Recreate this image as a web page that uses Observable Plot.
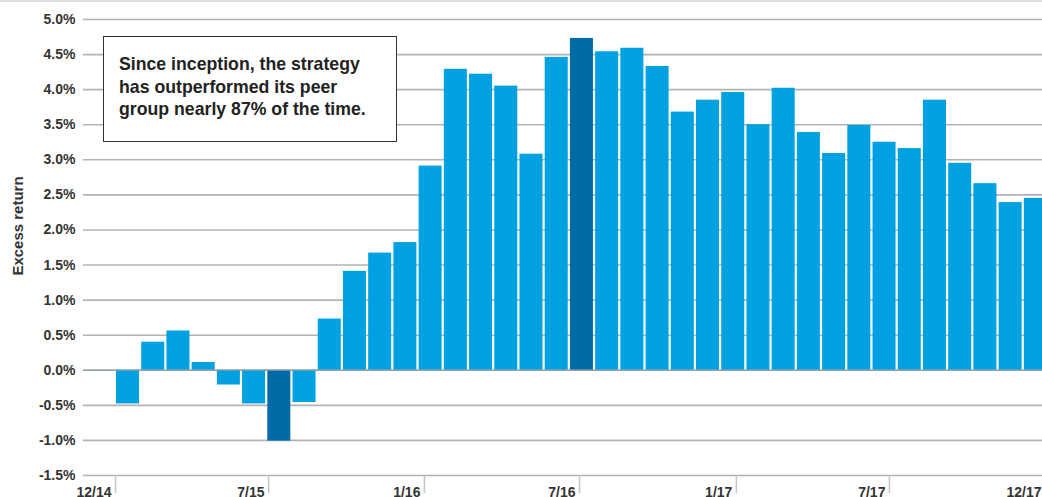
<!DOCTYPE html>
<html>
<head>
<meta charset="utf-8">
<script src="https://cdn.jsdelivr.net/npm/d3@7"></script>
<script src="https://cdn.jsdelivr.net/npm/@observablehq/plot@0.6"></script>
<style>
  html, body { margin: 0; padding: 0; background: #fff; overflow: hidden; }
  #wrap { position: relative; width: 1042px; height: 497px; font-family: "Liberation Sans", Arial, sans-serif; }
  #wrap svg { display: block; }
  #topline { position: absolute; left: 0; top: 0; width: 1042px; height: 2px; background: #dcdcdc; }
  #ytitle { position: absolute; left: 17px; top: 226px; transform: translate(-50%, -50%) rotate(-90deg);
            font-weight: bold; font-size: 15px; color: #333; white-space: nowrap; }
  #note { position: absolute; left: 103px; top: 36px; width: 294px; height: 106px; box-sizing: border-box;
          border: 1px solid #333; background: #fff; padding: 16px 0 0 15px;
          font-size: 17.7px; font-weight: bold; line-height: 22.5px; color: #222; }
</style>
</head>
<body>
<div id="wrap">
  <div id="topline"></div>
</div>
<script>
// Monthly excess return (%), in chart order
const excessReturn = [
  -0.48, 0.40, 0.56, 0.11, -0.21, -0.48, -1.01, -0.46, 0.73,
  1.41, 1.67, 1.82, 2.91, 4.29, 4.22, 4.05, 3.08, 4.46, 4.73,
  4.54, 4.59, 4.33, 3.68, 3.85, 3.96, 3.50, 4.02, 3.39, 3.09,
  3.49, 3.25, 3.16, 3.85, 2.95, 2.66, 2.39, 2.45
];
// Highlighted bars (low and high)
const highlighted = [6, 18];
// Date tick labels and their positions along the bar sequence
const tickLabels = ["12/14", "7/15", "1/16", "7/16", "1/17", "7/17", "12/17"];
const tickPositions = [0.0, 6.07, 12.25, 18.40, 24.62, 30.69, 36.88];
const yTicks = [-1.5, -1.0, -0.5, 0.0, 0.5, 1.0, 1.5, 2.0, 2.5, 3.0, 3.5, 4.0, 4.5, 5.0];

const noteText = ["Since inception, the strategy", "has outperformed its peer", "group nearly 87% of the time."];
const yTitle = "Excess return";

const data = excessReturn.map((v, i) => ({i, v, hi: highlighted.includes(i)}));

const chart = Plot.plot({
  width: 1042,
  height: 497,
  marginTop: 19,
  marginBottom: 22,
  marginLeft: 83,
  marginRight: 0,
  style: {fontFamily: "'Liberation Sans', Arial, sans-serif", fontSize: "14px", fontWeight: "bold", color: "#333", background: "#fff"},
  x: {domain: [-1.269, 36.76]},
  y: {domain: [-1.5, 5.0]},
  marks: [
    Plot.gridY(yTicks, {stroke: "#b3b3b3", strokeOpacity: 1, strokeWidth: 1.6}),
    Plot.rectY(data, {
      x1: "i", x2: d => d.i + 1, y: "v",
      insetLeft: 1, insetRight: 1.2,
      fill: d => d.hi ? "#006aa7" : "#00a1e0",
      clip: true
    }),
    Plot.ruleY([0], {stroke: "#8c9aa5", strokeOpacity: 0.8, strokeWidth: 1.5}),
    Plot.axisY(yTicks, {
      tickSize: 0, tickPadding: 8,
      tickFormat: d => d.toFixed(1) + "%",
      fontWeight: "bold", fontSize: 14, fill: "#333", label: null
    }),
    // tick marks
    Plot.axisX(tickPositions, {
      tickSize: 18, tickPadding: 0, stroke: "#c4c4c4", strokeWidth: 1.5,
      tickFormat: () => "", label: null
    }),
    // tick labels, right-aligned against their tick
    Plot.axisX(tickPositions, {
      tickSize: 0, tickPadding: 18,
      tickFormat: d => tickLabels[tickPositions.indexOf(d)],
      textAnchor: "end", dx: -4, dy: -6,
      fontWeight: "bold", fontSize: 14, fill: "#333", label: null
    })
  ]
});
const wrap = document.getElementById("wrap");
wrap.insertBefore(chart, wrap.firstChild);

const t = document.createElement("div");
t.id = "ytitle"; t.textContent = yTitle;
wrap.appendChild(t);

const note = document.createElement("div");
note.id = "note";
note.innerHTML = noteText.map(s => `<div>${s}</div>`).join("");
wrap.appendChild(note);
</script>
</body>
</html>
